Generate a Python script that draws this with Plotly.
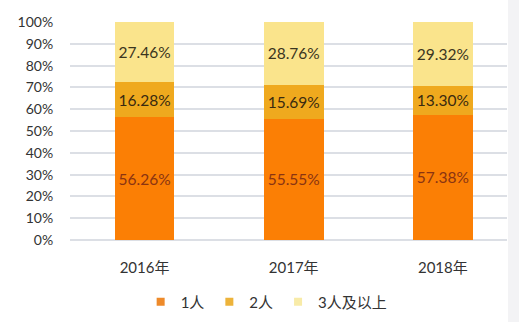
import plotly.graph_objects as go

years = ["2016年", "2017年", "2018年"]
series_names = ["1人", "2人", "3人及以上"]
one_person = [56.26, 55.55, 57.38]
two_person = [16.28, 15.69, 13.30]
three_plus = [27.46, 28.76, 29.32]
y_ticks = [0, 10, 20, 30, 40, 50, 60, 70, 80, 90, 100]

colors = ["#FB7F05", "#EFA91E", "#FAE48C"]
legend_colors = ["#EE8A2A", "#EDB33A", "#F8EBA8"]
text_colors = ["#8A3412", "#3a2a10", "#3a3520"]
FONT = "Lato, 'Noto Sans CJK SC', sans-serif"

fig = go.Figure()
for name, vals, c, tc in zip(series_names, [one_person, two_person, three_plus], colors, text_colors):
    fig.add_trace(go.Bar(
        x=years, y=vals, name=name, showlegend=False,
        marker=dict(color=c, line=dict(width=0)),
        text=[f"{v:.2f}%" for v in vals],
        textposition="inside", insidetextanchor="middle",
        textfont=dict(color=tc, size=15.5, family=FONT),
        width=0.40,
    ))
# legend entries with small square swatches
for name, c in zip(series_names, legend_colors):
    fig.add_trace(go.Scatter(
        x=[None], y=[None], mode="markers", name=name,
        marker=dict(symbol="square", size=8, color=c),
    ))

fig.update_layout(
    barmode="stack",
    width=519, height=322,
    margin=dict(l=70, r=12, t=22, b=82, autoexpand=False),
    paper_bgcolor="white", plot_bgcolor="white",
    font=dict(family=FONT, size=14, color="#333333"),
    showlegend=True,
    legend=dict(orientation="h", x=0.45, xanchor="center", y=-0.284, yanchor="middle",
                font=dict(size=15, color="#333333"), itemwidth=30, traceorder="normal",
                tracegroupgap=0),
    xaxis=dict(range=[-0.5, 2.43], showgrid=False, showline=False, automargin=False,
               ticks="outside", ticklen=14, tickcolor="rgba(0,0,0,0)",
               tickfont=dict(size=15, color="#333333")),
    yaxis=dict(range=[0, 100], tickvals=y_ticks, ticktext=[f"{t}%" for t in y_ticks],
               automargin=False,
               showgrid=True, gridcolor="#DCDFE5", gridwidth=1.5, zeroline=True,
               zerolinecolor="#DCDFE5", zerolinewidth=1.5,
               ticks="outside", ticklen=13, tickcolor="rgba(0,0,0,0)",
               tickfont=dict(size=14, color="#333333")),
    shapes=[
        dict(type="rect", xref="paper", yref="paper", x0=(508-70)/437, x1=(519-70)/437,
             y0=-82/218, y1=1+22/218, fillcolor="#F3F3F5", line=dict(width=0), layer="below"),
    ],
)

fig.write_html("out.html")
